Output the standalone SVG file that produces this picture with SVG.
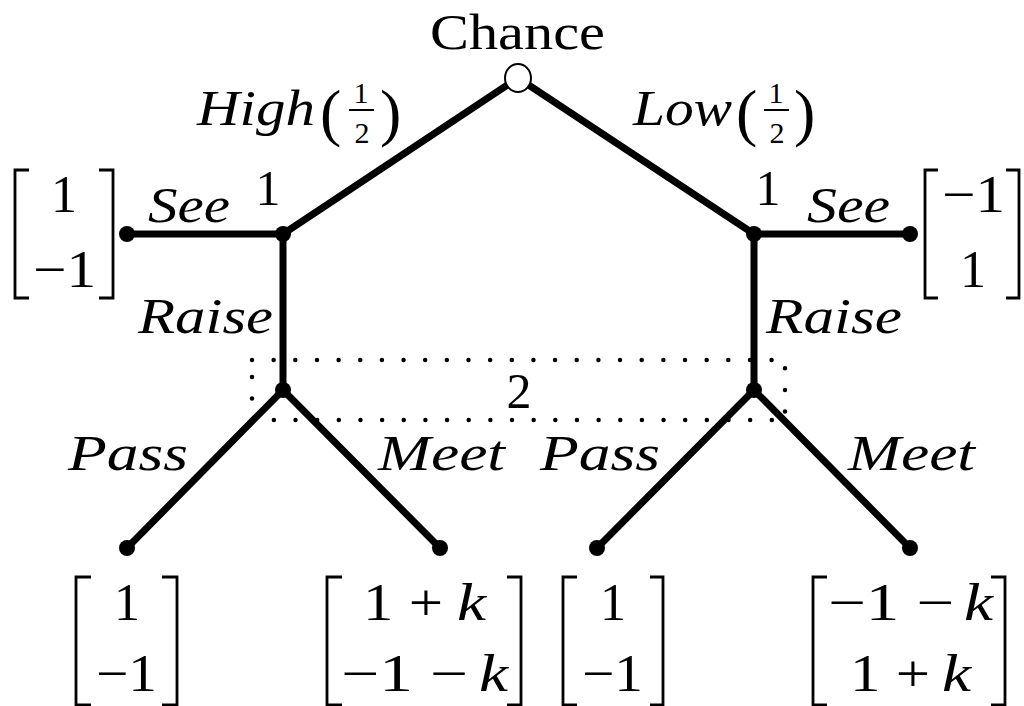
<svg xmlns="http://www.w3.org/2000/svg" width="1024" height="706" viewBox="0 0 1024 706">
<style>
text{fill:#000;font-family:'Liberation Serif','DejaVu Serif',serif}
.rm{font-size:50px}
.it{font-size:50px;font-style:italic}
.num{font-size:52px}
.fr{font-size:30px}
.par{font-size:64px}
.edge{stroke:#000;stroke-width:7;stroke-linecap:round;fill:none}
.br{stroke:#000;stroke-width:2.8;fill:none}
.dot{fill:#000}
</style>
<rect width="1024" height="706" fill="#fff"/>
<g id="infoset">
<rect x="252" y="360" width="533" height="60" fill="none" stroke="#000" stroke-width="4.5" stroke-linecap="round" stroke-dasharray="0 21.65"/>
<text class="rm" x="519" y="408" text-anchor="middle">2</text>
</g>
<g id="connectors">
<line class="edge" x1="518" y1="78" x2="283" y2="234"/>
<line class="edge" x1="518" y1="78" x2="754" y2="234"/>
<line class="edge" x1="283" y1="234" x2="127" y2="234"/>
<line class="edge" x1="754" y1="234" x2="910" y2="234"/>
<line class="edge" x1="283" y1="234" x2="283" y2="390"/>
<line class="edge" x1="754" y1="234" x2="754" y2="390"/>
<line class="edge" x1="283" y1="390" x2="127" y2="548"/>
<line class="edge" x1="283" y1="390" x2="440" y2="548"/>
<line class="edge" x1="754" y1="390" x2="597" y2="548"/>
<line class="edge" x1="754" y1="390" x2="910" y2="548"/>
</g>
<g id="edge-labels">
<text class="it" x="197" y="125" textLength="118" lengthAdjust="spacingAndGlyphs">High</text>
<text class="par" x="320" y="134">(</text>
<text class="fr" x="361" y="103" text-anchor="middle">1</text>
<line x1="349" y1="110" x2="374" y2="110" stroke="#000" stroke-width="2"/>
<text class="fr" x="362" y="143" text-anchor="middle">2</text>
<text class="par" x="380" y="134">)</text>
<text class="it" x="633" y="125" textLength="99" lengthAdjust="spacingAndGlyphs">Low</text>
<text class="par" x="736" y="134">(</text>
<text class="fr" x="776" y="103" text-anchor="middle">1</text>
<line x1="764" y1="110" x2="789" y2="110" stroke="#000" stroke-width="2"/>
<text class="fr" x="777" y="143" text-anchor="middle">2</text>
<text class="par" x="794" y="134">)</text>
<text class="it" x="148" y="222" textLength="82" lengthAdjust="spacingAndGlyphs">See</text>
<text class="it" x="807" y="222" textLength="83" lengthAdjust="spacingAndGlyphs">See</text>
<text class="it" x="138" y="333" textLength="135" lengthAdjust="spacingAndGlyphs">Raise</text>
<text class="it" x="766" y="333" textLength="136" lengthAdjust="spacingAndGlyphs">Raise</text>
<text class="it" x="68" y="470" textLength="120" lengthAdjust="spacingAndGlyphs">Pass</text>
<text class="it" x="378" y="470" textLength="127" lengthAdjust="spacingAndGlyphs">Meet</text>
<text class="it" x="540" y="470" textLength="120" lengthAdjust="spacingAndGlyphs">Pass</text>
<text class="it" x="848" y="470" textLength="127" lengthAdjust="spacingAndGlyphs">Meet</text>
</g>
<g id="chance">
<ellipse cx="518" cy="78" rx="13" ry="14" fill="#fff" stroke="#000" stroke-width="2"/>
<text class="rm" x="430" y="49" textLength="175" lengthAdjust="spacingAndGlyphs">Chance</text>
</g>
<g id="p1-high">
<circle class="dot" cx="283" cy="234" r="8"/>
<text class="rm" x="268" y="205" text-anchor="middle">1</text>
</g>
<g id="p1-low">
<circle class="dot" cx="754" cy="234" r="8"/>
<text class="rm" x="768" y="205" text-anchor="middle">1</text>
</g>
<g id="p2-high"><circle class="dot" cx="283" cy="390" r="8"/></g>
<g id="p2-low"><circle class="dot" cx="754" cy="390" r="8"/></g>
<g id="t-high-see">
<circle class="dot" cx="127" cy="234" r="8"/>
<path class="br" d="M29,170 H15 V298 H29 M99,170 H113 V298 H99"/>
<text class="num" x="64" y="212" text-anchor="middle">1</text>
<text class="num" x="33" y="287" textLength="63" lengthAdjust="spacingAndGlyphs">−1</text>
</g>
<g id="t-low-see">
<circle class="dot" cx="910" cy="234" r="8"/>
<path class="br" d="M938,170 H925 V298 H938 M1006,170 H1019 V298 H1006"/>
<text class="num" x="942" y="212" textLength="63" lengthAdjust="spacingAndGlyphs">−1</text>
<text class="num" x="973" y="287" text-anchor="middle">1</text>
</g>
<g id="t-high-pass">
<circle class="dot" cx="127" cy="548" r="8"/>
<path class="br" d="M91,577 H76 V705 H91 M162,577 H177 V705 H162"/>
<text class="num" x="127" y="620" text-anchor="middle">1</text>
<text class="num" x="96" y="691" textLength="61" lengthAdjust="spacingAndGlyphs">−1</text>
</g>
<g id="t-high-meet">
<circle class="dot" cx="440" cy="548" r="8"/>
<path class="br" d="M342,577 H327 V705 H342 M507,577 H521 V705 H507"/>
<text class="num" x="363" y="620" textLength="80" lengthAdjust="spacingAndGlyphs">1 +</text>
<text class="num" x="457" y="620" textLength="29" lengthAdjust="spacingAndGlyphs" font-style="italic">k</text>
<text class="num" x="341" y="691" textLength="127" lengthAdjust="spacingAndGlyphs">−1 −</text>
<text class="num" x="479" y="691" textLength="29" lengthAdjust="spacingAndGlyphs" font-style="italic">k</text>
</g>
<g id="t-low-pass">
<circle class="dot" cx="597" cy="548" r="8"/>
<path class="br" d="M577,577 H563 V705 H577 M650,577 H663 V705 H650"/>
<text class="num" x="613" y="620" text-anchor="middle">1</text>
<text class="num" x="582" y="691" textLength="61" lengthAdjust="spacingAndGlyphs">−1</text>
</g>
<g id="t-low-meet">
<circle class="dot" cx="910" cy="548" r="8"/>
<path class="br" d="M827,577 H813 V705 H827 M991,577 H1005 V705 H991"/>
<text class="num" x="828" y="620" textLength="126" lengthAdjust="spacingAndGlyphs">−1 −</text>
<text class="num" x="964" y="620" textLength="29" lengthAdjust="spacingAndGlyphs" font-style="italic">k</text>
<text class="num" x="850" y="691" textLength="80" lengthAdjust="spacingAndGlyphs">1 +</text>
<text class="num" x="942" y="691" textLength="29" lengthAdjust="spacingAndGlyphs" font-style="italic">k</text>
</g>
</svg>
